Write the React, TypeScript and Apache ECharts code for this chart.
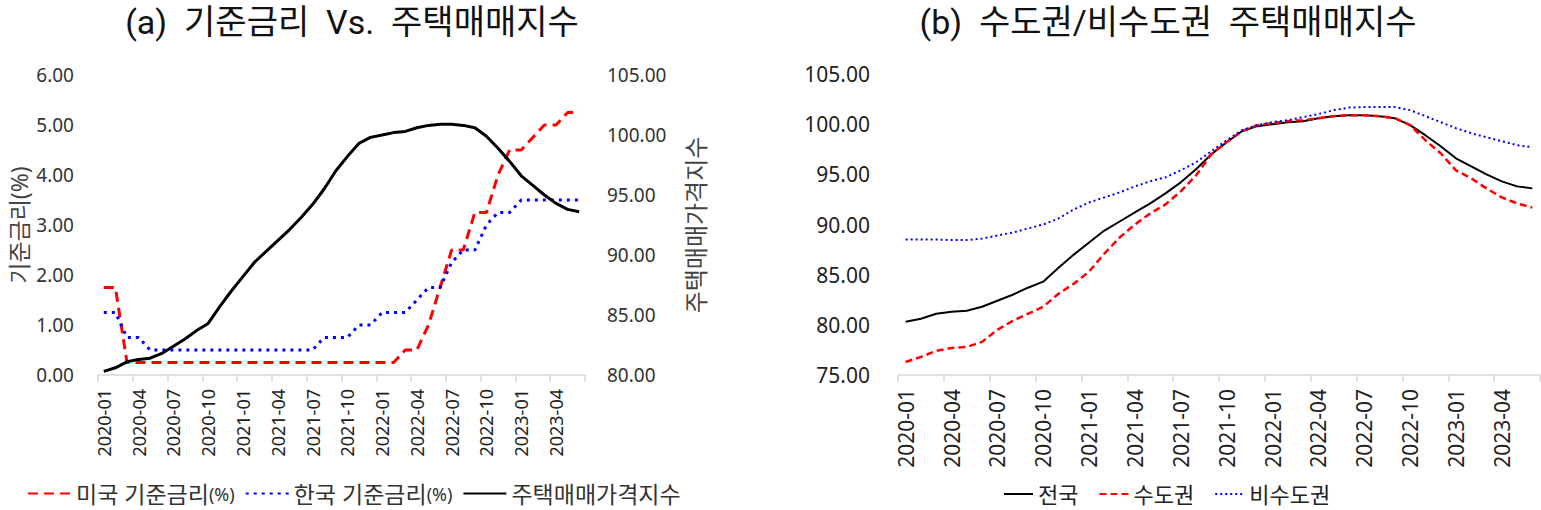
import React, { useEffect, useRef } from "react";
import * as echarts from "echarts";

const months = [
  "2020-01","2020-02","2020-03","2020-04","2020-05","2020-06","2020-07","2020-08","2020-09","2020-10","2020-11","2020-12",
  "2021-01","2021-02","2021-03","2021-04","2021-05","2021-06","2021-07","2021-08","2021-09","2021-10","2021-11","2021-12",
  "2022-01","2022-02","2022-03","2022-04","2022-05","2022-06","2022-07","2022-08","2022-09","2022-10","2022-11","2022-12",
  "2023-01","2023-02","2023-03","2023-04","2023-05","2023-06",
];

const usRate = [
  1.75, 1.75, 0.25, 0.25, 0.25, 0.25, 0.25, 0.25, 0.25, 0.25, 0.25, 0.25,
  0.25, 0.25, 0.25, 0.25, 0.25, 0.25, 0.25, 0.25, 0.25, 0.25, 0.25, 0.25,
  0.25, 0.25, 0.5, 0.5, 1.0, 1.75, 2.5, 2.5, 3.25, 3.25, 4.0, 4.5,
  4.5, 4.75, 5.0, 5.0, 5.25, 5.25,
];

const krRate = [
  1.25, 1.25, 0.75, 0.75, 0.5, 0.5, 0.5, 0.5, 0.5, 0.5, 0.5, 0.5,
  0.5, 0.5, 0.5, 0.5, 0.5, 0.5, 0.5, 0.75, 0.75, 0.75, 1.0, 1.0,
  1.25, 1.25, 1.25, 1.5, 1.75, 1.75, 2.25, 2.5, 2.5, 3.0, 3.25, 3.25,
  3.5, 3.5, 3.5, 3.5, 3.5, 3.5,
];

// 주택매매가격지수 (전국)
const nationIndex = [
  80.3, 80.6, 81.1, 81.3, 81.4, 81.8, 82.4, 83.0, 83.7, 84.3, 85.7, 87.0,
  88.2, 89.4, 90.3, 91.2, 92.1, 93.1, 94.2, 95.5, 97.0, 98.2, 99.3, 99.8,
  100.0, 100.2, 100.3, 100.6, 100.8, 100.9, 100.9, 100.8, 100.6, 99.9, 98.9, 97.8,
  96.6, 95.8, 95.0, 94.3, 93.8, 93.6,
];

const capitalIndex = [
  76.3, 76.8, 77.4, 77.7, 77.8, 78.3, 79.5, 80.4, 81.1, 81.8, 83.1, 84.1,
  85.3, 87.1, 88.7, 90.0, 91.1, 92.0, 93.3, 94.9, 97.0, 98.2, 99.3, 99.9,
  100.1, 100.3, 100.4, 100.6, 100.8, 100.9, 100.9, 100.8, 100.6, 99.9, 98.4, 97.1,
  95.4, 94.6, 93.6, 92.7, 92.1, 91.7,
];

const nonCapitalIndex = [
  88.5, 88.5, 88.5, 88.45, 88.45, 88.6, 88.9, 89.2, 89.6, 90.0, 90.6, 91.5,
  92.2, 92.7, 93.2, 93.8, 94.3, 94.7, 95.4, 96.2, 97.3, 98.4, 99.4, 99.9,
  100.2, 100.4, 100.7, 101.0, 101.4, 101.65, 101.7, 101.7, 101.7, 101.4, 100.8, 100.2,
  99.6, 99.1, 98.7, 98.3, 97.9, 97.7,
];

const titleA = "(a)  기준금리  Vs.  주택매매지수";
const titleB = "(b)  수도권/비수도권  주택매매지수";
const leftAxisName = "기준금리(%)";
const rightAxisName = "주택매매가격지수";
const namesA = ["미국 기준금리(%)", "한국 기준금리(%)", "주택매매가격지수"];
const namesB = ["전국", "수도권", "비수도권"];

const FONT = "'Noto Sans', 'Noto Sans CJK KR', sans-serif";
const TFONT = "Roboto, 'Noto Sans CJK KR', sans-serif";

export default function App() {
  const ref = useRef<HTMLDivElement>(null);

  useEffect(() => {
    if (!ref.current) return;
    const chart = echarts.init(ref.current, undefined, { renderer: "svg" });
    const fmt2 = (v: number) => v.toFixed(2);
    const xAxisCommon = (gridIndex: number, fs: number) => ({
      type: "category",
      gridIndex,
      data: months,
      boundaryGap: true,
      axisLine: { show: true, lineStyle: { color: "#d9d9d9", width: 1.5 } },
      axisTick: { show: true, interval: 2, length: 7, lineStyle: { color: "#d9d9d9", width: 1.5 } },
      axisLabel: { interval: 2, rotate: 90, fontSize: fs, color: "#222", fontFamily: FONT, margin: 14 },
      splitLine: { show: false },
    });

    chart.setOption({
      animation: false,
      backgroundColor: "#fff",
      graphic: [
        {
          type: "text",
          x: 352,
          y: 22,
          style: { text: titleA, font: `34px ${TFONT}`, fill: "#111", textAlign: "center", textVerticalAlign: "middle" },
        },
        {
          type: "text",
          x: 1168,
          y: 22,
          style: { text: titleB, font: `34px ${TFONT}`, fill: "#111", textAlign: "center", textVerticalAlign: "middle" },
        },
      ],
      grid: [
        { left: 98, top: 75, width: 487, height: 300, containLabel: false },
        { left: 898, top: 74, width: 642, height: 301, containLabel: false },
      ],
      xAxis: [xAxisCommon(0, 18), xAxisCommon(1, 21)],
      yAxis: [
        {
          type: "value",
          gridIndex: 0,
          min: 0,
          max: 6,
          interval: 1,
          position: "left",
          axisLine: { show: false },
          axisTick: { show: false },
          splitLine: { show: false },
          axisLabel: { formatter: fmt2, fontSize: 19, color: "#333", fontFamily: FONT, margin: 24 },
          name: leftAxisName,
          nameLocation: "middle",
          nameRotate: 90,
          nameGap: 68,
          nameTextStyle: { fontSize: 23, color: "#444", fontFamily: FONT },
        },
        {
          type: "value",
          gridIndex: 0,
          min: 80,
          max: 105,
          interval: 5,
          position: "right",
          axisLine: { show: false },
          axisTick: { show: false },
          splitLine: { show: false },
          axisLabel: { formatter: fmt2, fontSize: 19, color: "#333", fontFamily: FONT, margin: 22 },
          name: rightAxisName,
          nameLocation: "middle",
          nameRotate: 90,
          nameGap: 98,
          nameTextStyle: { fontSize: 24, color: "#444", fontFamily: FONT },
        },
        {
          type: "value",
          gridIndex: 1,
          min: 75,
          max: 105,
          interval: 5,
          position: "left",
          axisLine: { show: false },
          axisTick: { show: false },
          splitLine: { show: false },
          axisLabel: { formatter: fmt2, fontSize: 21, color: "#222", fontFamily: FONT, margin: 28 },
        },
      ],
      legend: [
        {
          data: namesA,
          left: 22,
          top: 477,
          itemWidth: 43,
          itemHeight: 14,
          itemGap: 10,
          itemStyle: { opacity: 0 },
          textStyle: {
            fontSize: 23,
            color: "#333",
            fontFamily: FONT,
            rich: { s: { fontSize: 18, color: "#333", fontFamily: FONT } },
          },
          formatter: (name: string) => name.replace("(%)", "{s|(%)}"),
        },
        {
          data: namesB,
          left: 998,
          top: 478,
          itemWidth: 29,
          itemHeight: 14,
          itemGap: 20,
          itemStyle: { opacity: 0 },
          textStyle: { fontSize: 22, color: "#222", fontFamily: FONT },
        },
      ],
      series: [
        {
          name: namesA[0],
          type: "line",
          xAxisIndex: 0,
          yAxisIndex: 0,
          data: usRate,
          symbol: "none",
          itemStyle: { color: "#ff0000" },
          lineStyle: { color: "#ff0000", width: 3, type: [10, 6] },
        },
        {
          name: namesA[1],
          type: "line",
          xAxisIndex: 0,
          yAxisIndex: 0,
          data: krRate,
          symbol: "none",
          itemStyle: { color: "#0000ff" },
          lineStyle: { color: "#0000ff", width: 3, type: [3, 5] },
        },
        {
          name: namesA[2],
          type: "line",
          xAxisIndex: 0,
          yAxisIndex: 1,
          data: nationIndex,
          symbol: "none",
          itemStyle: { color: "#000" },
          lineStyle: { color: "#000", width: 3 },
        },
        {
          name: namesB[0],
          type: "line",
          xAxisIndex: 1,
          yAxisIndex: 2,
          data: nationIndex,
          symbol: "none",
          itemStyle: { color: "#000" },
          lineStyle: { color: "#000", width: 2 },
        },
        {
          name: namesB[1],
          type: "line",
          xAxisIndex: 1,
          yAxisIndex: 2,
          data: capitalIndex,
          symbol: "none",
          itemStyle: { color: "#ff0000" },
          lineStyle: { color: "#ff0000", width: 2.5, type: [7, 4] },
        },
        {
          name: namesB[2],
          type: "line",
          xAxisIndex: 1,
          yAxisIndex: 2,
          data: nonCapitalIndex,
          symbol: "none",
          itemStyle: { color: "#0000ff" },
          lineStyle: { color: "#0000ff", width: 2, type: [2, 3] },
        },
      ],
    });

    return () => chart.dispose();
  }, []);

  return (
    <div
      ref={ref}
      style={{ position: "fixed", left: 0, top: 0, width: 1541, height: 510, background: "#fff" }}
    />
  );
}
